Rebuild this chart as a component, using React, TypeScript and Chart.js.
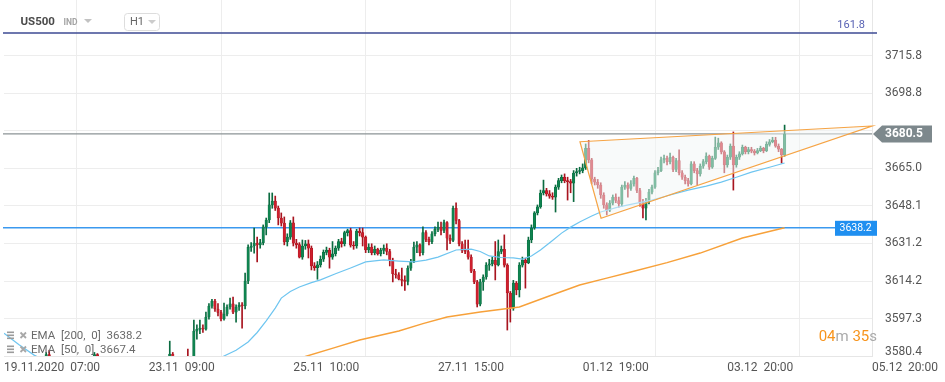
import React, { useEffect, useRef } from 'react';
import { Chart, registerables } from 'chart.js';

Chart.register(...registerables);

// ---------- data ----------
const xTickIndex = [0, 48, 96, 144, 192, 240, 288];
const xTickLabels = ['19.11.2020  07:00', '23.11  09:00', '25.11  10:00', '27.11  15:00', '01.12  19:00', '03.12  20:00', '05.12  20:00'];
const yTickValues = [3580.4, 3597.3, 3614.2, 3631.2, 3648.1, 3665.0, 3681.9, 3698.8, 3715.8];
const yTickHidden = [3681.9, 3580.4];
const yTickShifted = 3580.4;

const firstOpen = 3568;
const closes = [
  3566, 3564, 3561, 3563, 3560, 3558, 3561, 3563, 3566, 3568,
  3571, 3573, 3570, 3574, 3581, 3575, 3572, 3570, 3567, 3565,
  3563, 3566, 3564, 3568, 3570, 3572, 3571, 3574, 3577, 3576,
  3581, 3576, 3573, 3570, 3568, 3565, 3563, 3560, 3562, 3564,
  3566, 3565, 3568, 3570, 3569, 3572, 3571, 3573, 3570, 3568,
  3571, 3574, 3572, 3575, 3579, 3581.3, 3578, 3577, 3579, 3576,
  3578, 3575, 3574, 3591.6, 3592.4, 3593.0, 3592.5, 3598.0, 3602.9, 3605.2,
  3601.6, 3600.0, 3597.1, 3599.3, 3602.5, 3603.9, 3600.2, 3602.5, 3603.4, 3603.0,
  3614.2, 3629.4, 3630.0, 3631.3, 3630.5, 3631.5, 3638.6, 3641.7, 3648.5, 3650.3,
  3647.1, 3642.6, 3640.3, 3631.8, 3634.0, 3640.4, 3631.3, 3630.6, 3625.0, 3630.0,
  3631.0, 3629.0, 3621.0, 3620.2, 3621.5, 3624.0, 3627.1, 3628.0, 3625.0, 3626.5,
  3629.0, 3632.0, 3631.0, 3636.0, 3637.0, 3630.4, 3630.0, 3636.7, 3636.0, 3634.0,
  3628.2, 3629.5, 3627.0, 3628.5, 3626.5, 3628.0, 3629.0, 3627.5, 3623.7, 3617.5,
  3617.0, 3615.0, 3614.5, 3614.0, 3620.0, 3623.0, 3629.5, 3630.5, 3627.0, 3636.0,
  3633.0, 3632.0, 3635.5, 3637.5, 3638.5, 3637.0, 3640.5, 3633.5, 3632.5, 3647.0,
  3641.5, 3631.0, 3628.0, 3627.5, 3625.0, 3618.7, 3613.8, 3603.8, 3613.8, 3616.0,
  3621.4, 3622.0, 3623.5, 3621.5, 3627.5, 3628.5, 3621.4, 3608.8, 3602.0, 3613.3,
  3610.2, 3621.4, 3623.5, 3622.5, 3632.7, 3638.1, 3644.9, 3647.6, 3653.9, 3655.0,
  3653.5, 3652.5, 3652.0, 3656.5, 3659.5, 3661.0, 3659.5, 3659.0, 3658.3, 3662.9,
  3663.6, 3664.0, 3665.2, 3674.0, 3668.8, 3660.2, 3658.8, 3657.5, 3653.0, 3648.5,
  3646.2, 3649.3, 3652.0, 3650.5, 3649.0, 3656.5, 3657.5, 3656.0, 3658.0, 3660.5,
  3655.0, 3649.5, 3647.0, 3650.0, 3654.3, 3656.5, 3663.0, 3664.0, 3668.8, 3669.5,
  3668.0, 3670.0, 3664.5, 3668.5, 3663.0, 3661.0, 3659.5, 3658.0, 3667.0, 3664.0,
  3662.5, 3666.0, 3668.0, 3670.5, 3665.5, 3669.5, 3674.5, 3676.5, 3672.4, 3666.5,
  3670.0, 3675.0, 3666.5, 3670.0, 3671.5, 3674.5, 3672.5, 3673.5, 3672.8, 3672.0,
  3673.0, 3674.0, 3673.0, 3675.8, 3677.0, 3677.8, 3675.0, 3673.6, 3671.0, 3680.5,
];
const highs = [
  3569.5, 3567, 3565, 3564.5, 3564, 3561.5, 3562, 3565, 3567, 3570,
  3572.5, 3575, 3574, 3576, 3582, 3583, 3577, 3573.5, 3571, 3568.5,
  3566, 3567.5, 3567, 3569, 3571.5, 3573, 3574, 3575, 3578.5, 3579,
  3582, 3581.5, 3577, 3574, 3571.5, 3569, 3566, 3564, 3563.5, 3565,
  3567.5, 3568, 3569, 3571.5, 3572, 3573, 3574, 3575, 3574, 3571,
  3572, 3575.5, 3575, 3576.5, 3580, 3587.1, 3582, 3579.5, 3580, 3580,
  3579.5, 3583.5, 3576.5, 3596.6, 3594.4, 3596.6, 3594.5, 3600.2, 3604, 3606,
  3606, 3604, 3601, 3604.3, 3603.5, 3606.5, 3607, 3603.5, 3604.5, 3604.5,
  3617.8, 3630.5, 3631.5, 3638.1, 3634, 3633, 3639.5, 3642.6, 3653.9, 3653.9,
  3652.5, 3648, 3644.9, 3643.1, 3635.5, 3641.5, 3643.1, 3633, 3631.5, 3632.7,
  3632.5, 3632.7, 3630, 3622.5, 3623, 3625.5, 3628.2, 3629.5, 3629, 3632,
  3630, 3633, 3633.5, 3636.7, 3637.6, 3638, 3632, 3637.5, 3638.1, 3638.1,
  3634.5, 3631, 3631, 3630, 3629, 3629, 3630.5, 3631, 3628.5, 3624.5,
  3619.5, 3618, 3620, 3616.5, 3621, 3624, 3631.8, 3632, 3631, 3638.6,
  3637, 3634, 3636.5, 3638.6, 3640.8, 3640.8, 3641.7, 3641, 3635, 3648,
  3649.5, 3642, 3632, 3632.7, 3632.7, 3626, 3619.5, 3614.5, 3615, 3617,
  3622.5, 3624, 3625, 3632, 3632.7, 3630, 3635, 3622, 3609.5, 3614.5,
  3614, 3622.5, 3625, 3624.5, 3634, 3639.5, 3645.5, 3648.5, 3655.2, 3659.7,
  3656, 3655, 3654, 3657.5, 3660.5, 3662, 3662.5, 3661, 3660, 3664,
  3665, 3665.5, 3667, 3676, 3677.5, 3669.5, 3661, 3660, 3658.5, 3654,
  3649.5, 3650.5, 3653, 3653.5, 3652, 3657.5, 3659, 3658.5, 3659.5, 3661.5,
  3661, 3656, 3651, 3651.5, 3655.5, 3657.5, 3664, 3665.5, 3670.1, 3671,
  3670.5, 3671.9, 3670.5, 3669.5, 3673.3, 3664, 3662, 3660.5, 3668, 3668,
  3665, 3667, 3669, 3672, 3671, 3670.5, 3679.1, 3678.6, 3677, 3673,
  3671, 3676, 3681.4, 3671, 3672.5, 3675.5, 3675, 3674.5, 3674.5, 3673.5,
  3674, 3675, 3674.5, 3677, 3678, 3679, 3679, 3676, 3674, 3684.5,
];
const lows = [
  3564, 3562.5, 3559.5, 3560, 3558, 3556, 3557, 3560, 3562, 3565,
  3567, 3570, 3568.5, 3569, 3573, 3574, 3571, 3568, 3565.5, 3563,
  3561, 3562, 3562.5, 3563, 3567, 3569, 3569.5, 3570, 3573, 3574.5,
  3575, 3575, 3572, 3569, 3566.5, 3564, 3561.5, 3558.5, 3559, 3561,
  3563, 3563.5, 3564, 3567, 3567.5, 3568, 3569.5, 3570, 3569, 3566.5,
  3567, 3570, 3571, 3571, 3574, 3578, 3576.5, 3575, 3576, 3574.5,
  3575, 3573.5, 3572, 3573, 3588, 3590.5, 3591, 3592, 3597, 3602,
  3600.5, 3598.5, 3596.2, 3596.5, 3598.5, 3601.5, 3599.5, 3595.7, 3601, 3593,
  3601.6, 3613, 3627.5, 3626.8, 3622.8, 3629, 3630.5, 3635, 3640.5, 3647,
  3646, 3639.5, 3639, 3630.5, 3630, 3633, 3630, 3629, 3624.6, 3624,
  3628.5, 3624.6, 3619.2, 3619, 3615, 3620.5, 3623, 3626, 3620, 3624,
  3625.5, 3628, 3629.5, 3630, 3634.5, 3629.5, 3628.5, 3629, 3634.5, 3630,
  3627, 3627, 3626, 3626, 3625.9, 3625.5, 3626.5, 3626, 3621, 3613.8,
  3615.5, 3614.7, 3612, 3610, 3612.5, 3619, 3622.5, 3627, 3625.5, 3626,
  3632, 3630.5, 3631, 3634.5, 3636.5, 3635, 3636, 3628.2, 3631, 3632,
  3640, 3630, 3627, 3626.5, 3624, 3618, 3613, 3602.5, 3603, 3610,
  3615, 3619, 3621, 3614.7, 3621, 3626.5, 3620.5, 3592.1, 3595.7, 3601,
  3608, 3607, 3620.5, 3611, 3622, 3631.5, 3637.5, 3644, 3647, 3653,
  3652.5, 3651.5, 3651, 3645.3, 3655.5, 3658.5, 3658.5, 3650.7, 3654, 3650,
  3661.5, 3662.5, 3663, 3664.5, 3667.5, 3658, 3657.5, 3656, 3651.5, 3647,
  3644, 3645.5, 3648.5, 3649.5, 3647.5, 3648, 3655.5, 3652, 3655, 3657,
  3654, 3648, 3642.6, 3641.7, 3649, 3653.5, 3656, 3662, 3663.5, 3667.5,
  3666.5, 3667, 3663.5, 3663.5, 3662, 3660, 3658, 3657, 3657.5, 3663,
  3657.5, 3661.5, 3665, 3667, 3664.5, 3665, 3669, 3673.5, 3671.5, 3663,
  3665.5, 3669, 3655.2, 3665.5, 3669, 3671, 3671.5, 3671.5, 3672, 3671,
  3671.5, 3672.5, 3672, 3672.5, 3675, 3676.5, 3674.5, 3672.5, 3667.4, 3670.5,
];

const ema50Index = [0, 5, 10, 20, 30, 40, 50, 60, 66, 73, 77, 81, 84, 87, 90, 92, 95, 98, 102, 105, 110, 115, 120, 126, 131, 136, 140, 144, 150, 155, 158, 161, 165, 169, 172, 175, 178, 182, 185, 188, 191, 195, 198, 204, 210, 215, 221, 227, 233, 238, 243, 248, 254, 259];
const ema50Values = [3590.7, 3585.5, 3580.8, 3574, 3571, 3569, 3569.5, 3572, 3575, 3580.4, 3583, 3586.7, 3591, 3596.2, 3602, 3606.5, 3609.5, 3611.5, 3613.5, 3614.7, 3617.5, 3620.1, 3622.8, 3623.7, 3623.2, 3622.8, 3623.6, 3625.0, 3628.2, 3628.6, 3627.5, 3625.5, 3624.8, 3624.6, 3624.1, 3625.5, 3628.2, 3632.5, 3635.8, 3638.5, 3640.8, 3643.5, 3645.3, 3647.6, 3649.3, 3650.7, 3653, 3655.2, 3657, 3658.8, 3661, 3663.3, 3665.5, 3667.4];
const ema200Index = [0, 40, 80, 98, 100, 110, 118, 131, 139, 147, 158, 171, 180, 191, 200, 208, 220, 231, 245, 259];
const ema200Values = [3560, 3563, 3572, 3579.2, 3580.2, 3584.3, 3587.6, 3591.7, 3595, 3598.0, 3600.2, 3602.5, 3607.0, 3612.4, 3615.5, 3618.3, 3622.5, 3626.8, 3633.6, 3638.2];

const triangleIndex = [191.1, 288, 198.1];
const trianglePrice = [3677.0, 3684.1, 3642.5];

const lastPrice = 3680.5;
const ema200Last = 3638.2;
const ema50Last = 3667.4;
const fibLevel = 3726;
const fibLabel = '161.8';
const symbol = 'US500';
const symbolType = 'IND';
const interval = 'H1';
const timerMin = '04';
const timerSec = '35';

// ---------- helpers ----------
const opens = closes.map((c, i) => (i === 0 ? firstOpen : closes[i - 1]));
const GREEN = '#0f8450';
const RED = '#cf1f2d';
const GREEN_EDGE = '#0b6b40';
const RED_EDGE = '#a8141f';
const candleColors = closes.map((c, i) => (c >= opens[i] ? GREEN : RED));
const candleEdges = closes.map((c, i) => (c >= opens[i] ? GREEN_EDGE : RED_EDGE));

const overlayPlugin = {
  id: 'overlay',
  beforeDatasetsDraw(chart: any) {
    const { ctx, chartArea: a, scales } = chart;
    const y = scales.y;
    ctx.save();
    const hline = (x1: number, x2: number, yy: number, color: string, w: number) => {
      ctx.beginPath();
      ctx.strokeStyle = color;
      ctx.lineWidth = w;
      ctx.moveTo(x1, yy);
      ctx.lineTo(x2, yy);
      ctx.stroke();
    };
    hline(a.left - 1, 835, y.getPixelForValue(ema200Last), '#3b99ef', 1.6);
    hline(a.left - 1, a.right, y.getPixelForValue(lastPrice), '#8b9396', 1.2);
    ctx.restore();
  },
  afterDatasetsDraw(chart: any) {
    const { ctx, scales } = chart;
    const x = scales.x;
    const y = scales.y;
    const pts = triangleIndex.map((v, i) => [x.getPixelForValue(v), y.getPixelForValue(trianglePrice[i])]);
    ctx.save();
    ctx.beginPath();
    ctx.moveTo(pts[0][0], pts[0][1]);
    ctx.lineTo(pts[1][0], pts[1][1]);
    ctx.lineTo(pts[2][0], pts[2][1]);
    ctx.closePath();
    ctx.fillStyle = 'rgba(242,246,245,0.5)';
    ctx.fill();
    ctx.strokeStyle = '#f6a445';
    ctx.lineWidth = 1.2;
    ctx.stroke();
    ctx.restore();
  },
  afterDraw(chart: any) {
    const { ctx, scales } = chart;
    const y = scales.y;
    ctx.save();
    ctx.textBaseline = 'middle';

    // fib level line + label
    const fy = y.getPixelForValue(fibLevel);
    ctx.beginPath();
    ctx.strokeStyle = '#3d4a93';
    ctx.lineWidth = 1.5;
    ctx.moveTo(3, fy);
    ctx.lineTo(877, fy);
    ctx.stroke();
    ctx.font = '11px Roboto';
    ctx.fillStyle = '#5862b4';
    ctx.textAlign = 'right';
    ctx.fillText(fibLabel, 865, fy - 8);

    // header
    ctx.textAlign = 'left';
    ctx.font = 'bold 11.5px Roboto';
    ctx.fillStyle = '#4a4a4a';
    ctx.fillText(symbol, 20.5, 22.5);
    ctx.font = 'bold 8.5px Roboto';
    ctx.fillStyle = '#a3a3a3';
    ctx.fillText(symbolType, 63.5, 23);
    const tri = (cx: number, cy: number, color: string) => {
      ctx.beginPath();
      ctx.fillStyle = color;
      ctx.moveTo(cx - 4, cy - 2);
      ctx.lineTo(cx + 4, cy - 2);
      ctx.lineTo(cx, cy + 2);
      ctx.closePath();
      ctx.fill();
    };
    tri(88, 21, '#c2c2c2');
    ctx.beginPath();
    ctx.fillStyle = '#ffffff';
    ctx.strokeStyle = '#dddddd';
    ctx.lineWidth = 1;
    (ctx as any).roundRect(124.5, 13.5, 35, 17, 3);
    ctx.fill();
    ctx.stroke();
    ctx.font = '11px Roboto';
    ctx.fillStyle = '#666666';
    ctx.fillText(interval, 130, 22.5);
    tri(152, 22, '#cccccc');

    // current price tag
    const py = y.getPixelForValue(lastPrice);
    ctx.beginPath();
    ctx.fillStyle = '#7d888c';
    ctx.moveTo(873, py);
    ctx.lineTo(882, py - 8.5);
    ctx.lineTo(932, py - 8.5);
    ctx.lineTo(932, py + 8.5);
    ctx.lineTo(882, py + 8.5);
    ctx.closePath();
    ctx.fill();
    ctx.font = 'bold 12px Roboto';
    ctx.fillStyle = '#ffffff';
    ctx.fillText(lastPrice.toFixed(1), 885, py + 0.5);

    // EMA200 tag
    const by = y.getPixelForValue(ema200Last);
    ctx.fillStyle = '#1f8ff0';
    ctx.fillRect(835, by - 7, 42, 15);
    ctx.font = '10.5px Roboto';
    ctx.fillStyle = '#ffffff';
    ctx.fillText(ema200Last.toFixed(1), 839.5, by + 0.5);

    // shifted bottom y label
    ctx.font = '12px Roboto';
    ctx.fillStyle = '#555555';
    ctx.fillText(yTickShifted.toFixed(1), 885, 352);

    // legend
    const legendRows = [
      { text: 'EMA  [200,  0]  ' + ema200Last.toFixed(1), cy: 336.5 },
      { text: 'EMA  [50,  0]  ' + ema50Last.toFixed(1), cy: 350.5 },
    ];
    legendRows.forEach((r) => {
      ctx.fillStyle = '#9b9b9b';
      ctx.fillRect(7, r.cy - 5, 7, 1.6);
      ctx.fillRect(7, r.cy - 2, 7, 1.6);
      ctx.fillRect(7, r.cy + 1, 7, 1.6);
      ctx.strokeStyle = '#a8a8a8';
      ctx.lineWidth = 1.8;
      ctx.beginPath();
      ctx.moveTo(20.5, r.cy - 4);
      ctx.lineTo(26, r.cy + 1.5);
      ctx.moveTo(26, r.cy - 4);
      ctx.lineTo(20.5, r.cy + 1.5);
      ctx.stroke();
      ctx.font = '11.5px Roboto';
      ctx.fillStyle = '#6a6a6a';
      ctx.textAlign = 'left';
      ctx.fillText(r.text, 31, r.cy);
    });

    // timer
    ctx.font = '15px Roboto';
    ctx.textAlign = 'right';
    const parts = [
      { t: 's', c: '#aaaaaa' },
      { t: timerSec, c: '#f7941d' },
      { t: 'm ', c: '#aaaaaa' },
      { t: timerMin, c: '#f7941d' },
    ];
    let rx = 877;
    parts.forEach((p) => {
      ctx.fillStyle = p.c;
      ctx.fillText(p.t, rx, 337);
      rx -= ctx.measureText(p.t).width;
    });
    ctx.restore();
  },
};

export default function App() {
  const ref = useRef<HTMLCanvasElement | null>(null);
  useEffect(() => {
    document.body.style.margin = '0';
    const canvas = ref.current;
    if (!canvas) return;
    const bodies = closes.map((c, i) => ({ x: i, y: [opens[i], c] }));
    const wicks = closes.map((c, i) => ({ x: i, y: [lows[i], highs[i]] }));
    const chart = new Chart(canvas, {
      type: 'bar',
      data: {
        datasets: [
          {
            type: 'line',
            data: ema50Index.map((v, i) => ({ x: v, y: ema50Values[i] })),
            borderColor: '#6ec5f0',
            borderWidth: 1.2,
            pointRadius: 0,
            fill: false,
            order: 0,
          } as any,
          {
            type: 'line',
            data: ema200Index.map((v, i) => ({ x: v, y: ema200Values[i] })),
            borderColor: '#f7a13a',
            borderWidth: 1.5,
            pointRadius: 0,
            fill: false,
            order: 0,
          } as any,
          {
            type: 'bar',
            data: bodies as any,
            backgroundColor: candleColors,
            borderColor: candleEdges,
            borderWidth: 0.5,
            borderSkipped: false,
            barThickness: 2.5,
            minBarLength: 1,
            grouped: false,
            order: 1,
          } as any,
          {
            type: 'bar',
            data: wicks as any,
            backgroundColor: candleEdges,
            barThickness: 1,
            grouped: false,
            order: 2,
          } as any,
        ],
      },
      options: {
        responsive: false,
        animation: false,
        events: [],
        layout: { padding: { left: 4, top: 0, right: 0, bottom: 0 } },
        plugins: { legend: { display: false }, tooltip: { enabled: false } },
        scales: {
          x: {
            type: 'linear',
            min: 0,
            max: 288,
            offset: false,
            grid: { color: '#ededed', drawTicks: false },
            border: { color: '#e6e6e6' },
            ticks: {
              autoSkip: false,
              maxRotation: 0,
              align: 'start',
              padding: 5,
              color: '#555555',
              font: { family: 'Roboto', size: 12 },
              callback: (v: any) => {
                const k = xTickIndex.indexOf(Number(v));
                return k >= 0 ? xTickLabels[k] : '';
              },
            },
            afterBuildTicks: (s: any) => {
              s.ticks = xTickIndex.map((v) => ({ value: v }));
            },
            afterFit: (s: any) => {
              s.height = 26;
              s.paddingLeft = 0;
              s.paddingRight = 0;
            },
          },
          y: {
            type: 'linear',
            position: 'right',
            min: 3580.4,
            max: 3740.9,
            grid: { color: '#ededed', drawTicks: false },
            border: { color: '#e6e6e6' },
            ticks: {
              padding: 13,
              color: '#555555',
              font: { family: 'Roboto', size: 12 },
              callback: (v: any) => (yTickHidden.includes(Number(v)) ? '' : Number(v).toFixed(1)),
            },
            afterBuildTicks: (s: any) => {
              s.ticks = yTickValues.map((v) => ({ value: v }));
            },
            afterFit: (s: any) => {
              s.width = 73;
              s.paddingTop = 0;
              s.paddingBottom = 0;
            },
          },
        },
      } as any,
      plugins: [overlayPlugin],
    });
    return () => chart.destroy();
  }, []);
  return (
    <div style={{ width: 945, height: 382, background: '#ffffff' }}>
      <canvas ref={ref} width={945} height={382} />
    </div>
  );
}
